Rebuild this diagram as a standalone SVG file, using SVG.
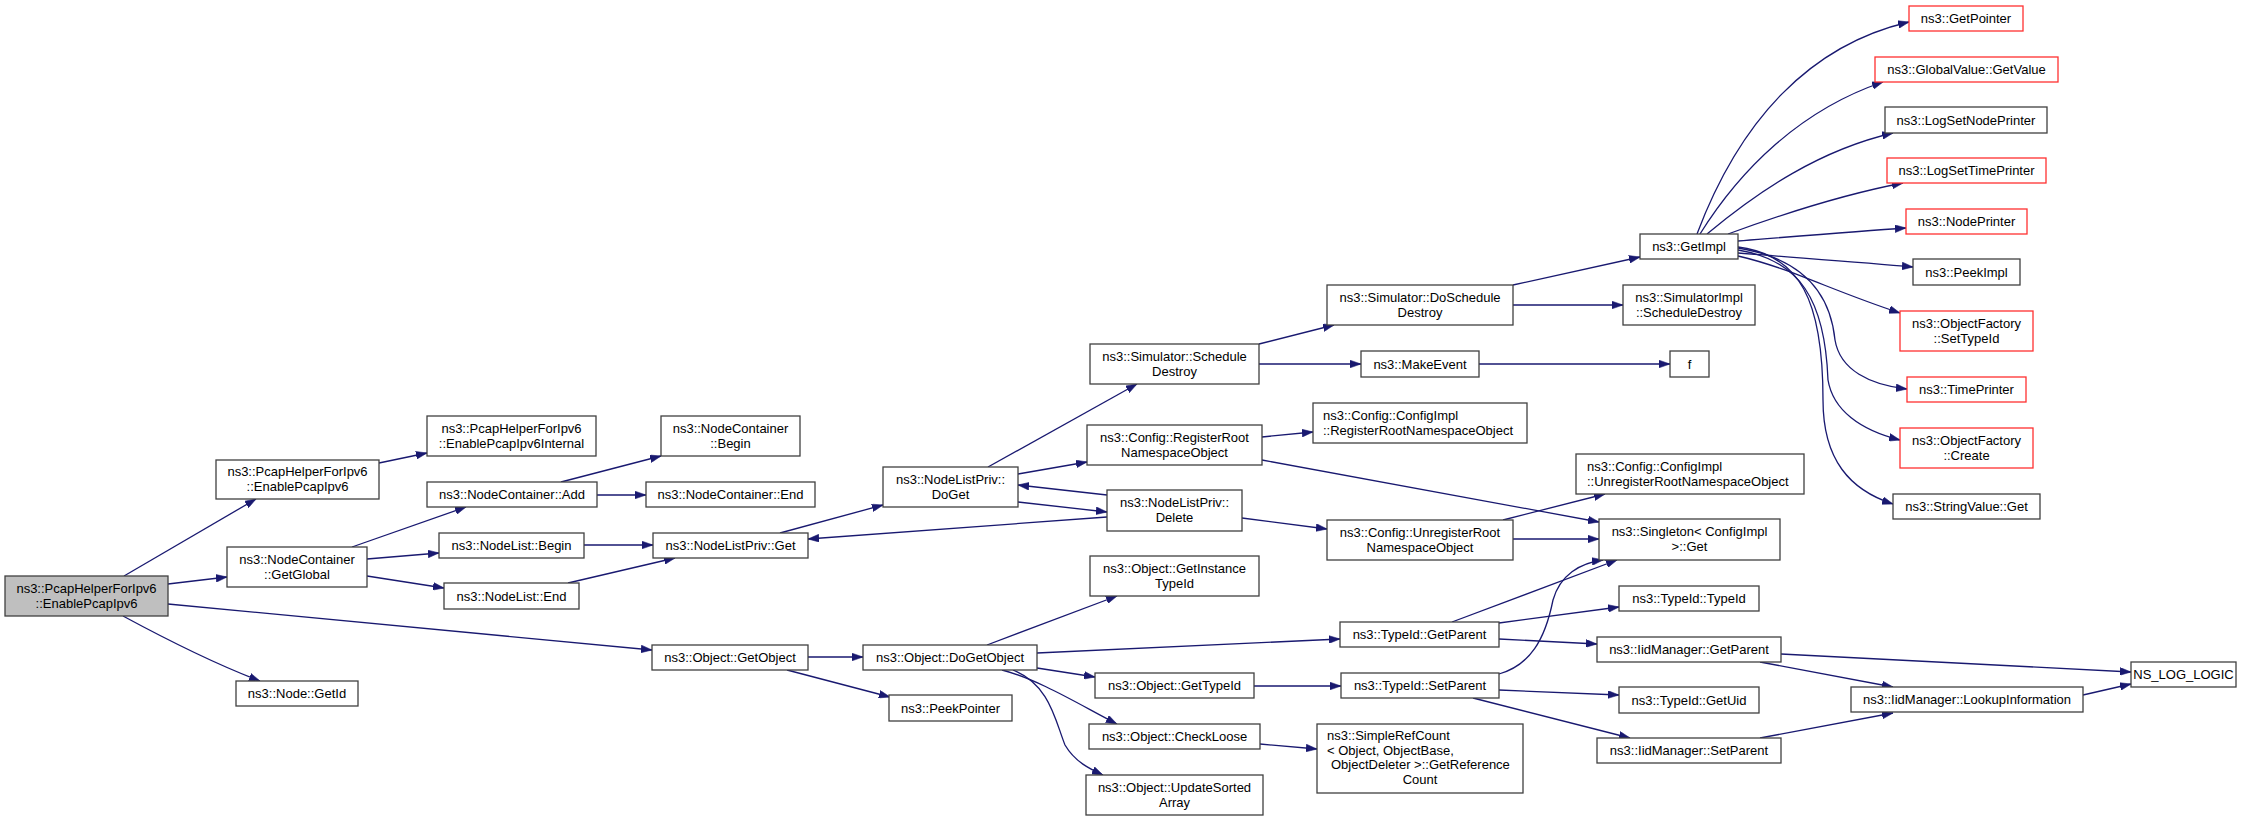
<svg xmlns="http://www.w3.org/2000/svg" width="2259" height="820" viewBox="0 0 2259 820">
<style>
.n rect{fill:#fff;stroke:#404040;stroke-width:1.3}
.n.r rect{stroke:#ff3030}
.n.root rect{fill:#bfbfbf}
text{font-family:"Liberation Sans",Arial,sans-serif;font-size:13px;fill:#000}
.c{text-anchor:middle}
#edges path{fill:none;stroke:#191970;stroke-width:1.3;marker-end:url(#ah)}
</style>
<defs>
<marker id="ah" viewBox="0 0 10 7" markerWidth="11" markerHeight="8" refX="10" refY="3.5" orient="auto" markerUnits="userSpaceOnUse">
<path d="M0,0 L10,3.5 L0,7 z" fill="#191970" stroke="#191970" stroke-width="0.5"/>
</marker>
</defs>
<rect width="2259" height="820" fill="#fff"/>
<g id="edges">
<path d="M124,576 L256,499"/>
<path d="M168,584 L227,577"/>
<path d="M168,604 L652,650"/>
<path d="M123,616 C160,636 210,662 260,681"/>
<path d="M379,463 L427,453"/>
<path d="M352,547 L466,507"/>
<path d="M367,559 L439,553"/>
<path d="M367,576 L444,588"/>
<path d="M561,482 L661,456"/>
<path d="M597,495 L646,495"/>
<path d="M584,545 L653,545"/>
<path d="M568,583 L675,558"/>
<path d="M780,533 L883,505"/>
<path d="M1107,517 L808,539"/>
<path d="M988,467 L1137,384"/>
<path d="M1018,474 L1087,462"/>
<path d="M1018,502 L1107,512"/>
<path d="M1107,495 L1018,485"/>
<path d="M1259,344 L1334,325"/>
<path d="M1259,364 L1361,364"/>
<path d="M1262,437 L1313,432"/>
<path d="M1262,460 L1599,522"/>
<path d="M1242,518 L1327,529"/>
<path d="M1503,520 L1605,494"/>
<path d="M1513,539 L1599,539"/>
<path d="M1513,285 L1640,257"/>
<path d="M1513,305 L1623,305"/>
<path d="M1479,364 L1670,364"/>
<path d="M1697,234 C1740,120 1810,45 1909,22"/>
<path d="M1700,234 C1740,170 1800,110 1883,82"/>
<path d="M1707,234 C1760,190 1820,150 1893,133"/>
<path d="M1728,234 C1780,215 1840,195 1903,183"/>
<path d="M1738,241 C1800,236 1860,231 1906,228"/>
<path d="M1738,253 C1800,258 1860,262 1913,267"/>
<path d="M1738,256 C1790,268 1830,290 1900,313"/>
<path d="M1738,248 C1800,258 1830,290 1835,340 C1840,370 1870,385 1907,389"/>
<path d="M1738,250 C1800,260 1825,300 1828,380 C1833,410 1860,430 1900,440"/>
<path d="M1738,247 C1800,255 1823,300 1823,400 C1823,460 1850,490 1893,504"/>
<path d="M808,657 L863,657"/>
<path d="M787,670 L890,697"/>
<path d="M987,645 L1117,596"/>
<path d="M1037,653 L1340,639"/>
<path d="M1037,668 L1095,677"/>
<path d="M1002,670 C1040,680 1080,705 1117,724"/>
<path d="M1013,670 C1050,685 1055,720 1065,745 C1075,762 1090,769 1103,775"/>
<path d="M1254,686 L1341,686"/>
<path d="M1260,744 L1317,749"/>
<path d="M1452,622 L1617,560"/>
<path d="M1499,623 L1619,607"/>
<path d="M1499,639 L1597,644"/>
<path d="M1499,674 C1530,665 1545,640 1553,600 C1560,575 1580,563 1603,560"/>
<path d="M1499,690 L1619,695"/>
<path d="M1473,698 L1630,738"/>
<path d="M1781,654 L2131,672"/>
<path d="M1760,662 L1893,687"/>
<path d="M1760,738 L1893,713"/>
<path d="M2083,695 L2131,684"/>
</g>
<g id="n0" class="n root"><rect x="5" y="576" width="163" height="40"/><text class="c" x="86.5" y="592.5">ns3::PcapHelperForIpv6</text><text class="c" x="86.5" y="607.5">::EnablePcapIpv6</text></g>
<g id="n1" class="n"><rect x="216" y="460" width="163" height="39"/><text class="c" x="297.5" y="476">ns3::PcapHelperForIpv6</text><text class="c" x="297.5" y="491">::EnablePcapIpv6</text></g>
<g id="n2" class="n"><rect x="227" y="547" width="140" height="40"/><text class="c" x="297" y="563.5">ns3::NodeContainer</text><text class="c" x="297" y="578.5">::GetGlobal</text></g>
<g id="n3" class="n"><rect x="236" y="681" width="122" height="25"/><text class="c" x="297" y="698">ns3::Node::GetId</text></g>
<g id="n4" class="n"><rect x="427" y="416" width="169" height="40"/><text class="c" x="511.5" y="432.5">ns3::PcapHelperForIpv6</text><text class="c" x="511.5" y="447.5">::EnablePcapIpv6Internal</text></g>
<g id="n5" class="n"><rect x="427" y="482" width="170" height="25"/><text class="c" x="512" y="499">ns3::NodeContainer::Add</text></g>
<g id="n6" class="n"><rect x="439" y="533" width="145" height="25"/><text class="c" x="511.5" y="550">ns3::NodeList::Begin</text></g>
<g id="n7" class="n"><rect x="444" y="583" width="135" height="26"/><text class="c" x="511.5" y="600.5">ns3::NodeList::End</text></g>
<g id="n8" class="n"><rect x="661" y="416" width="139" height="40"/><text class="c" x="730.5" y="432.5">ns3::NodeContainer</text><text class="c" x="730.5" y="447.5">::Begin</text></g>
<g id="n9" class="n"><rect x="646" y="482" width="169" height="25"/><text class="c" x="730.5" y="499">ns3::NodeContainer::End</text></g>
<g id="n10" class="n"><rect x="653" y="533" width="155" height="25"/><text class="c" x="730.5" y="550">ns3::NodeListPriv::Get</text></g>
<g id="n11" class="n"><rect x="652" y="645" width="156" height="25"/><text class="c" x="730" y="662">ns3::Object::GetObject</text></g>
<g id="n12" class="n"><rect x="883" y="467" width="135" height="40"/><text class="c" x="950.5" y="483.5">ns3::NodeListPriv::</text><text class="c" x="950.5" y="498.5">DoGet</text></g>
<g id="n13" class="n"><rect x="863" y="645" width="174" height="25"/><text class="c" x="950" y="662">ns3::Object::DoGetObject</text></g>
<g id="n14" class="n"><rect x="889" y="695" width="123" height="26"/><text class="c" x="950.5" y="712.5">ns3::PeekPointer</text></g>
<g id="n15" class="n"><rect x="1090" y="344" width="169" height="40"/><text class="c" x="1174.5" y="360.5">ns3::Simulator::Schedule</text><text class="c" x="1174.5" y="375.5">Destroy</text></g>
<g id="n16" class="n"><rect x="1087" y="425" width="175" height="40"/><text class="c" x="1174.5" y="441.5">ns3::Config::RegisterRoot</text><text class="c" x="1174.5" y="456.5">NamespaceObject</text></g>
<g id="n17" class="n"><rect x="1107" y="490" width="135" height="41"/><text class="c" x="1174.5" y="507">ns3::NodeListPriv::</text><text class="c" x="1174.5" y="522">Delete</text></g>
<g id="n18" class="n"><rect x="1090" y="556" width="169" height="40"/><text class="c" x="1174.5" y="572.5">ns3::Object::GetInstance</text><text class="c" x="1174.5" y="587.5">TypeId</text></g>
<g id="n19" class="n"><rect x="1095" y="673" width="159" height="25"/><text class="c" x="1174.5" y="690">ns3::Object::GetTypeId</text></g>
<g id="n20" class="n"><rect x="1089" y="724" width="171" height="25"/><text class="c" x="1174.5" y="741">ns3::Object::CheckLoose</text></g>
<g id="n21" class="n"><rect x="1086" y="775" width="177" height="40"/><text class="c" x="1174.5" y="791.5">ns3::Object::UpdateSorted</text><text class="c" x="1174.5" y="806.5">Array</text></g>
<g id="n22" class="n"><rect x="1327" y="285" width="186" height="40"/><text class="c" x="1420" y="301.5">ns3::Simulator::DoSchedule</text><text class="c" x="1420" y="316.5">Destroy</text></g>
<g id="n23" class="n"><rect x="1361" y="351" width="118" height="26"/><text class="c" x="1420" y="368.5">ns3::MakeEvent</text></g>
<g id="n24" class="n"><rect x="1313" y="403" width="214" height="40"/><text x="1323" y="419.5">ns3::Config::ConfigImpl</text><text x="1323" y="434.5">::RegisterRootNamespaceObject</text></g>
<g id="n25" class="n"><rect x="1327" y="520" width="186" height="40"/><text class="c" x="1420" y="536.5">ns3::Config::UnregisterRoot</text><text class="c" x="1420" y="551.5">NamespaceObject</text></g>
<g id="n26" class="n"><rect x="1340" y="622" width="159" height="25"/><text class="c" x="1419.5" y="639">ns3::TypeId::GetParent</text></g>
<g id="n27" class="n"><rect x="1341" y="673" width="158" height="25"/><text class="c" x="1420" y="690">ns3::TypeId::SetParent</text></g>
<g id="n28" class="n"><rect x="1317" y="724" width="206" height="69"/><text x="1327" y="740">ns3::SimpleRefCount</text><text x="1327" y="755">&lt; Object, ObjectBase,</text><text x="1331" y="769"> ObjectDeleter &gt;::GetReference</text><text class="c" x="1420" y="784">Count</text></g>
<g id="n29" class="n"><rect x="1640" y="234" width="98" height="25"/><text class="c" x="1689" y="251">ns3::GetImpl</text></g>
<g id="n30" class="n"><rect x="1623" y="285" width="132" height="40"/><text class="c" x="1689" y="301.5">ns3::SimulatorImpl</text><text class="c" x="1689" y="316.5">::ScheduleDestroy</text></g>
<g id="n31" class="n"><rect x="1670" y="351" width="39" height="26"/><text class="c" x="1689.5" y="368.5">f</text></g>
<g id="n32" class="n"><rect x="1576" y="454" width="228" height="40"/><text x="1587" y="470.5">ns3::Config::ConfigImpl</text><text x="1587" y="485.5">::UnregisterRootNamespaceObject</text></g>
<g id="n33" class="n"><rect x="1599" y="519" width="181" height="41"/><text class="c" x="1689.5" y="536">ns3::Singleton&lt; ConfigImpl</text><text class="c" x="1689.5" y="551">&gt;::Get</text></g>
<g id="n34" class="n"><rect x="1619" y="586" width="140" height="25"/><text class="c" x="1689" y="603">ns3::TypeId::TypeId</text></g>
<g id="n35" class="n"><rect x="1597" y="637" width="184" height="25"/><text class="c" x="1689" y="654">ns3::IidManager::GetParent</text></g>
<g id="n36" class="n"><rect x="1619" y="687" width="140" height="26"/><text class="c" x="1689" y="704.5">ns3::TypeId::GetUid</text></g>
<g id="n37" class="n"><rect x="1597" y="738" width="184" height="25"/><text class="c" x="1689" y="755">ns3::IidManager::SetParent</text></g>
<g id="n38" class="n r"><rect x="1909" y="6" width="114" height="25"/><text class="c" x="1966" y="23">ns3::GetPointer</text></g>
<g id="n39" class="n r"><rect x="1875" y="57" width="183" height="25"/><text class="c" x="1966.5" y="74">ns3::GlobalValue::GetValue</text></g>
<g id="n40" class="n"><rect x="1885" y="107" width="162" height="26"/><text class="c" x="1966" y="124.5">ns3::LogSetNodePrinter</text></g>
<g id="n41" class="n r"><rect x="1887" y="158" width="159" height="25"/><text class="c" x="1966.5" y="175">ns3::LogSetTimePrinter</text></g>
<g id="n42" class="n r"><rect x="1906" y="209" width="121" height="25"/><text class="c" x="1966.5" y="226">ns3::NodePrinter</text></g>
<g id="n43" class="n"><rect x="1913" y="259" width="107" height="26"/><text class="c" x="1966.5" y="276.5">ns3::PeekImpl</text></g>
<g id="n44" class="n r"><rect x="1900" y="311" width="133" height="40"/><text class="c" x="1966.5" y="327.5">ns3::ObjectFactory</text><text class="c" x="1966.5" y="342.5">::SetTypeId</text></g>
<g id="n45" class="n r"><rect x="1907" y="377" width="119" height="25"/><text class="c" x="1966.5" y="394">ns3::TimePrinter</text></g>
<g id="n46" class="n r"><rect x="1900" y="428" width="133" height="40"/><text class="c" x="1966.5" y="444.5">ns3::ObjectFactory</text><text class="c" x="1966.5" y="459.5">::Create</text></g>
<g id="n47" class="n"><rect x="1893" y="494" width="147" height="25"/><text class="c" x="1966.5" y="511">ns3::StringValue::Get</text></g>
<g id="n48" class="n"><rect x="1851" y="687" width="232" height="25"/><text class="c" x="1967" y="704">ns3::IidManager::LookupInformation</text></g>
<g id="n49" class="n"><rect x="2131" y="662" width="105" height="25"/><text class="c" x="2183.5" y="679">NS_LOG_LOGIC</text></g>
</svg>
